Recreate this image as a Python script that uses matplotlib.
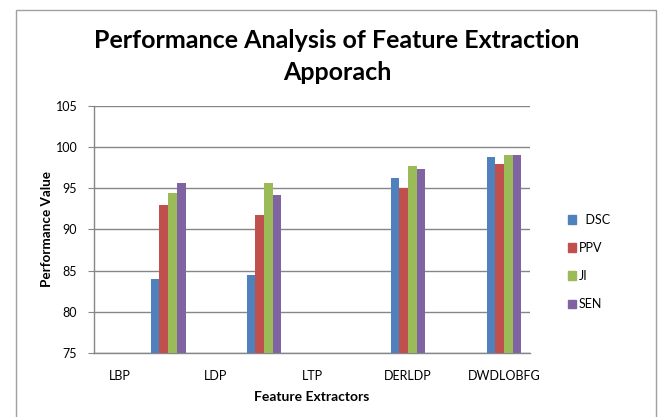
import numpy as np
import matplotlib.pyplot as plt
from matplotlib.patches import Rectangle, Patch

plt.rcParams.update({
    "font.family": ["Lato", "DejaVu Sans"],
    "font.size": 9,
})

# data
extractors = ["LBP", "LDP", "LTP", "DERLDP", "DWDLOBFG"]
metrics = ["DSC", "PPV", "JI", "SEN"]
dsc = [84.0, 84.5, np.nan, 96.3, 98.8]
ppv = [93.0, 91.7, np.nan, 95.0, 98.0]
ji = [94.4, 95.6, np.nan, 97.7, 99.1]
sen = [95.7, 94.2, np.nan, 97.4, 99.1]
# the first two groups sit halfway between labels in the original
shift = [0.5, 0.5, 0.0, 0.0, 0.0]

colors = ["#4F81BD", "#C0504D", "#9BBB59", "#8064A2"]

fig = plt.figure(figsize=(6.58, 4.17), dpi=100)
ax = fig.add_axes([0.1429, 0.1535, 0.6626, 0.5923])

x = np.arange(len(extractors)) + np.array(shift)
w = 0.091
for i, (vals, c) in enumerate(zip([dsc, ppv, ji, sen], colors)):
    v = np.array(vals)
    ax.bar(x + (i - 1.5) * w, v - 75, width=w, bottom=75, color=c, zorder=3)

ax.set_xlim(-0.271, 4.271)
ax.set_ylim(75, 105)
ax.set_yticks(np.arange(75, 106, 5))
ax.set_xticks(np.arange(len(extractors)))
ax.set_xticklabels(extractors)
ax.grid(axis="y", color="#868686", linewidth=1, zorder=0)
for s in ["top", "right"]:
    ax.spines[s].set_visible(False)
for s in ["left", "bottom"]:
    ax.spines[s].set_color("#868686")
    ax.spines[s].set_linewidth(1)
ax.tick_params(axis="y", length=4, color="#868686", pad=8, labelsize=9)
ax.tick_params(axis="x", length=0, pad=12, labelsize=9)

ax.set_xlabel("Feature Extractors", fontweight="bold", fontsize=10, labelpad=7)
ax.set_ylabel("Performance Value", fontweight="bold", fontsize=9.7, labelpad=2)

fig.text(0.512, 0.902, "Performance Analysis of Feature Extraction", ha="center",
         va="center", fontsize=18, fontweight="bold")
fig.text(0.512, 0.825, "Apporach", ha="center", va="center", fontsize=18,
         fontweight="bold")

handles = [Patch(color=c) for c in colors]
labels = ["  " + metrics[0]] + metrics[1:]
fig.legend(handles, labels, loc="upper left", bbox_to_anchor=(0.855, 0.5),
           frameon=False, handlelength=0.7, handleheight=0.7, handletextpad=0.2,
           labelspacing=1.3, fontsize=9, borderaxespad=0)

fig.patches.append(Rectangle((0.0243, -0.1), 0.9727, 1.077, transform=fig.transFigure,
                             fill=False, edgecolor="#A0A0A0", linewidth=1))

fig.savefig("out.png", dpi=100)
